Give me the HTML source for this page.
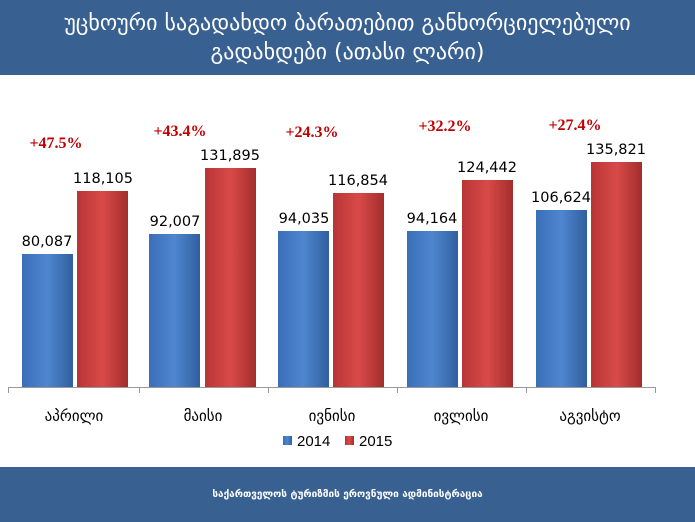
<!DOCTYPE html>
<html><head><meta charset="utf-8"><style>
body{margin:0;width:695px;height:522px;background:#fff;font-family:"DejaVu Sans","Liberation Sans",sans-serif;position:relative;overflow:hidden}
.hdr{position:absolute;left:0;top:0;width:695px;height:75px;background:#386192;color:#fff;text-align:center;font-size:22px;line-height:29px;padding-top:9px;box-sizing:border-box}
.ftr{position:absolute;left:0;top:467px;width:695px;height:55px;background:#386192;color:#fff;text-align:center;font-size:10px;line-height:55px;font-weight:bold}
</style></head><body>
<div class="hdr">უცხოური საგადახდო ბარათებით განხორციელებული<br>გადახდები (ათასი ლარი)</div>
<svg width="695" height="522" style="position:absolute;left:0;top:0">
<defs>
<linearGradient id="b" x1="0" x2="1"><stop offset="0" stop-color="#3a6fb8"/><stop offset="0.5" stop-color="#4f86d0"/><stop offset="1" stop-color="#2f5f9f"/></linearGradient>
<linearGradient id="r" x1="0" x2="1"><stop offset="0" stop-color="#b83535"/><stop offset="0.5" stop-color="#d84a48"/><stop offset="1" stop-color="#a32d2d"/></linearGradient>
</defs>
<g font-family="DejaVu Sans, sans-serif" font-size="14.5" fill="#000" text-anchor="middle">
<rect x="22" y="254" width="51" height="133" fill="url(#b)"/><rect x="77" y="191" width="51" height="196" fill="url(#r)"/>
<text x="47" y="246">80,087</text><text x="103" y="183">118,105</text>
<rect x="149" y="234" width="51" height="153" fill="url(#b)"/><rect x="205" y="168" width="51" height="219" fill="url(#r)"/>
<text x="175" y="226">92,007</text><text x="230" y="160">131,895</text>
<rect x="278" y="231" width="51" height="156" fill="url(#b)"/><rect x="333" y="193" width="51" height="194" fill="url(#r)"/>
<text x="304" y="223">94,035</text><text x="358" y="185">116,854</text>
<rect x="407" y="231" width="51" height="156" fill="url(#b)"/><rect x="462" y="180" width="51" height="207" fill="url(#r)"/>
<text x="432" y="223">94,164</text><text x="487" y="172">124,442</text>
<rect x="536" y="210" width="51" height="177" fill="url(#b)"/><rect x="591" y="162" width="51" height="225" fill="url(#r)"/>
<text x="561" y="202">106,624</text><text x="616" y="154">135,821</text>
</g>
<g font-family="Liberation Serif, serif" font-weight="bold" font-size="16" fill="#c00000" text-anchor="middle">
<text x="56" y="148">+47.5%</text><text x="180" y="136">+43.4%</text><text x="312" y="137">+24.3%</text><text x="445" y="131">+32.2%</text><text x="575" y="130">+27.4%</text>
</g>
<g stroke="#999" stroke-width="1">
<line x1="8" y1="387.5" x2="655" y2="387.5"/>
<line x1="8.5" y1="387" x2="8.5" y2="393"/><line x1="139.5" y1="387" x2="139.5" y2="393"/><line x1="268.5" y1="387" x2="268.5" y2="393"/><line x1="397.5" y1="387" x2="397.5" y2="393"/><line x1="526.5" y1="387" x2="526.5" y2="393"/><line x1="655.5" y1="387" x2="655.5" y2="393"/>
</g>
<g font-family="DejaVu Sans, sans-serif" font-size="15" fill="#000" text-anchor="middle">
<text x="74" y="421">აპრილი</text><text x="203" y="421">მაისი</text><text x="332" y="421">ივნისი</text><text x="461" y="421">ივლისი</text><text x="590" y="421">აგვისტო</text>
</g>
<rect x="283" y="436" width="9" height="9" fill="url(#b)"/><rect x="345" y="436" width="9" height="9" fill="url(#r)"/>
<g font-family="Liberation Sans, sans-serif" font-size="15" fill="#000"><text x="297" y="446">2014</text><text x="359" y="446">2015</text></g>
</svg>
<div class="ftr">საქართველოს ტურიზმის ეროვნული ადმინისტრაცია</div>
</body></html>
